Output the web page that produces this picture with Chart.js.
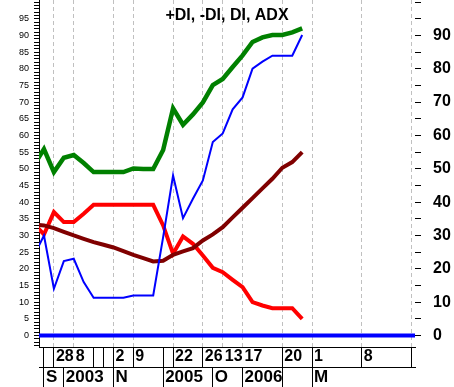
<!DOCTYPE html>
<html>
<head>
    <meta charset="UTF-8" />
    <title>+DI, -DI, DI, ADX</title>
    <script src="https://cdn.jsdelivr.net/npm/chart.js@4.4.1/dist/chart.umd.min.js"></script>
    <style>
        html, body {
            margin: 0;
            padding: 0;
            background: #fff;
        }

        #diChart {
            display: block;
        }
    </style>
</head>
<body>

<canvas id="diChart" width="454" height="387"></canvas>

<script>
    const chartTitle = '+DI, -DI, DI, ADX';

    // point positions along the bottom axis (one step per bar of data)
    const pointAt = [-1, 0, 1, 2, 3, 4, 5, 6, 7, 8, 9, 10, 11, 12, 13, 14, 15, 16, 17, 18, 19, 20, 21, 22, 23, 24, 25, 26];

    // series values, one per position above
    const diLine = [51.1, 55.9, 49.0, 53.3, 54.1, 51.7, 49.0, 49.0, 49.0, 49.0, 50.1, 49.9, 49.9, 55.6, 68.1, 63.2, 66.3, 69.9, 75.1, 76.9, 80.5, 84.0, 88.0, 89.4, 90.1, 90.1, 90.9, 92.1];
    const plusDI = [24.0, 30.0, 14.0, 22.3, 23.0, 16.0, 11.3, 11.3, 11.3, 11.3, 12.0, 12.0, 12.0, 29.5, 48.0, 35.2, 41.0, 46.5, 58.0, 60.6, 67.8, 71.4, 80.0, 82.1, 83.9, 83.9, 83.9, 90.1];
    const minusDI = [33.5, 30.3, 37.0, 34.0, 34.0, 36.5, 39.2, 39.2, 39.2, 39.2, 39.2, 39.2, 39.2, 33.0, 24.5, 29.7, 27.5, 24.0, 20.3, 19.0, 16.7, 14.5, 10.0, 9.0, 8.2, 8.2, 8.2, 5.0];
    const adx = [33.3, 33.0, 32.2, 31.1, 30.0, 29.0, 28.0, 27.2, 26.4, 25.3, 24.2, 23.2, 22.2, 22.4, 24.2, 25.2, 26.2, 28.5, 30.3, 32.5, 35.4, 38.3, 41.2, 44.1, 47.0, 50.3, 52.0, 55.0];
    const zeroAt = [-1, 38];
    const zeroLine = [0, 0];

    // bottom axis, first row (days) and second row (months / years)
    const dayTickAt = [1, 3, 7, 9, 13, 16, 18, 20, 24, 27, 32, 37];
    const dayLabels = ['28', '8', '2', '9', '22', '26', '13', '17', '20', '1', '8', ''];
    const dayDividers = [0, 1, 5, 6, 7, 9, 12, 13, 16, 24, 27, 32, 37];
    const monthTickAt = [0, 2, 7, 12, 17, 20, 27];
    const monthLabels = ['S', '2003', 'N', '2005', 'O', '2006', 'M'];
    const monthDividers = [0, 2, 7, 12, 17, 20, 24, 27];

    // value axes
    const leftTickLabels = [0, 5, 10, 15, 20, 25, 30, 35, 40, 45, 50, 55, 60, 65, 70, 75, 80, 85, 90, 95];
    const rightTickMarks = [0, 5, 10, 15, 20, 25, 30, 35, 40, 45, 50, 55, 60, 65, 70, 75, 80, 85, 90, 95, 100];
    const rightTickLabels = [0, 10, 20, 30, 40, 50, 60, 70, 80, 90];

    const xMin = -0.5, xMax = 37.36;
    const yMin = -3.45, yMax = 100.6;

    const FONT = "'Liberation Sans', Arial, sans-serif";

    function pairs(xs, ys) {
        return xs.map((x, i) => ({ x: x, y: ys[i] }));
    }

    function union(a, b) {
        return [...new Set([...a, ...b])].sort((p, q) => p - q);
    }

    function leftMinorTicks() {
        const out = [];
        for (let v = Math.ceil(yMin); v <= Math.floor(yMax); v++) out.push(v);
        return out;
    }

    function fixSize(prop, size) {
        return s => {
            s[prop] = size;
            s.paddingTop = 0; s.paddingBottom = 0;
            s.paddingLeft = 0; s.paddingRight = 0;
        };
    }

    const insideTitle = {
        id: 'insideTitle',
        afterDraw(chart) {
            const { ctx, chartArea } = chart;
            ctx.save();
            ctx.font = 'bold 16px ' + FONT;
            ctx.fillStyle = '#000';
            ctx.textAlign = 'center';
            ctx.textBaseline = 'alphabetic';
            ctx.fillText(chartTitle, (chartArea.left + chartArea.right) / 2, 20);
            ctx.restore();
        }
    };

    const lineDefaults = { pointRadius: 0, tension: 0, fill: false, clip: 0 };

    new Chart(document.getElementById('diChart'), {
        type: 'line',
        data: {
            datasets: [
                { ...lineDefaults, label: '+DI', data: pairs(pointAt, plusDI), borderColor: '#0000ff', borderWidth: 2 },
                { ...lineDefaults, label: 'ADX', data: pairs(pointAt, adx), borderColor: '#800000', borderWidth: 4 },
                { ...lineDefaults, label: '-DI', data: pairs(pointAt, minusDI), borderColor: '#ff0000', borderWidth: 4 },
                { ...lineDefaults, label: 'DI', data: pairs(pointAt, diLine), borderColor: '#008000', borderWidth: 4.5 },
                { ...lineDefaults, label: 'zero', data: pairs(zeroAt, zeroLine), borderColor: '#0000ff', borderWidth: 4 }
            ]
        },
        options: {
            responsive: false,
            devicePixelRatio: 1,
            animation: false,
            events: [],
            layout: { padding: 0 },
            plugins: {
                legend: { display: false },
                tooltip: { enabled: false },
                title: { display: false }
            },
            scales: {
                x: {
                    type: 'linear',
                    position: 'bottom',
                    weight: 0,
                    min: xMin,
                    max: xMax,
                    afterBuildTicks: s => { s.ticks = union(dayTickAt, dayDividers).map(v => ({ value: v })); },
                    afterFit: fixSize('height', 20),
                    ticks: {
                        autoSkip: false,
                        maxRotation: 0,
                        minRotation: 0,
                        align: 'start',
                        labelOffset: 2,
                        padding: -20,
                        color: '#000',
                        font: { family: FONT, size: 16, weight: 'bold' },
                        callback: v => {
                            const i = dayTickAt.indexOf(v);
                            return i >= 0 ? dayLabels[i] : '';
                        }
                    },
                    grid: {
                        drawOnChartArea: true,
                        drawTicks: true,
                        tickLength: 20,
                        lineWidth: 1,
                        color: ctx => dayTickAt.includes(ctx.tick.value) ? '#c0c0c0' : 'rgba(0,0,0,0)',
                        tickColor: ctx => dayDividers.includes(ctx.tick.value) ? '#000' : 'rgba(0,0,0,0)'
                    },
                    border: { display: true, color: '#000', width: 1, dash: [4, 3] }
                },
                x2: {
                    type: 'linear',
                    position: 'bottom',
                    weight: 1,
                    min: xMin,
                    max: xMax,
                    afterBuildTicks: s => { s.ticks = union(monthTickAt, monthDividers).map(v => ({ value: v })); },
                    afterFit: fixSize('height', 20),
                    ticks: {
                        autoSkip: false,
                        maxRotation: 0,
                        minRotation: 0,
                        align: 'start',
                        labelOffset: 2,
                        padding: -20,
                        color: '#000',
                        font: { family: FONT, size: 17, weight: 'bold' },
                        callback: v => {
                            const i = monthTickAt.indexOf(v);
                            return i >= 0 ? monthLabels[i] : '';
                        }
                    },
                    grid: {
                        drawOnChartArea: false,
                        drawTicks: true,
                        tickLength: 20,
                        tickColor: ctx => monthDividers.includes(ctx.tick.value) ? '#000' : 'rgba(0,0,0,0)'
                    },
                    border: { display: true, color: '#000', width: 1 }
                },
                y: {
                    position: 'left',
                    min: yMin,
                    max: yMax,
                    afterBuildTicks: s => { s.ticks = leftMinorTicks().map(v => ({ value: v })); },
                    afterFit: fixSize('width', 39),
                    ticks: {
                        autoSkip: false,
                        padding: 5,
                        color: '#000',
                        font: { family: FONT, size: 9 },
                        callback: v => leftTickLabels.includes(v) ? String(v) : ''
                    },
                    grid: {
                        drawOnChartArea: false,
                        tickLength: 5,
                        tickColor: '#000'
                    },
                    border: { display: true, color: '#000', width: 1 }
                },
                yR: {
                    position: 'right',
                    min: yMin,
                    max: yMax,
                    afterBuildTicks: s => { s.ticks = rightTickMarks.map(v => ({ value: v })); },
                    afterFit: fixSize('width', 39),
                    ticks: {
                        autoSkip: false,
                        padding: 12,
                        color: '#000',
                        font: { family: FONT, size: 16, weight: 'bold' },
                        callback: v => rightTickLabels.includes(v) ? String(v) : ''
                    },
                    grid: {
                        drawOnChartArea: false,
                        tickLength: 6,
                        tickColor: '#000'
                    },
                    border: { display: false }
                }
            }
        },
        plugins: [insideTitle]
    });
</script>

</body>
</html>
